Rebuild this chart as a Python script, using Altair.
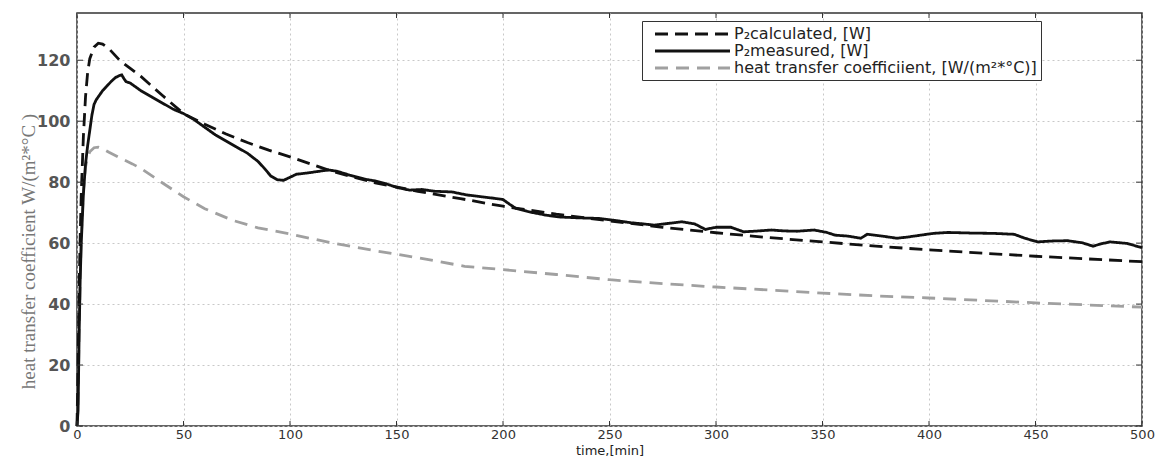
import altair as alt
import pandas as pd

# ---- data ----
calc_t = [0, 0.5, 1, 1.5, 2, 3, 4, 5, 6, 8, 10, 12, 15, 20, 25, 30, 40, 50, 60, 70, 80, 90, 100,
          120, 140, 160, 180, 200, 225, 250, 275, 300, 325, 350, 375, 400, 425, 450, 475, 500]
calc_v = [0, 20, 45, 62, 76, 95, 108, 116, 120.5, 124.3, 125.6, 125.3, 123.8, 120, 117.3, 114.7,
          108.5, 102.5, 99, 95.8, 93, 90.5, 88.3, 83.5, 79.8, 77, 74.6, 72.1, 69.5, 67.3, 65.2,
          63.4, 61.8, 60.4, 59, 57.8, 56.7, 55.7, 54.8, 53.9]

meas_t = [0, 0.5, 1, 1.5, 2, 3, 4, 5, 6, 7, 8, 9, 10, 12, 14, 16, 18, 20, 21, 22, 23, 25, 28, 30,
          35, 40, 45, 50, 55, 60, 65, 70, 75, 80, 85, 88, 91, 94, 97, 100, 103, 108, 113, 118, 122,
          128, 135, 140, 145, 150, 156, 162, 168, 176, 183, 190, 196, 200, 203, 206, 212, 220, 226,
          235, 245, 252, 260, 266, 271, 278, 284, 290, 295, 300, 307, 313, 320, 326, 332, 338, 346,
          352, 356, 362, 368, 371, 378, 385, 390, 396, 402, 409, 420, 430, 440, 445, 451, 458, 465,
          472, 477, 481, 485, 493, 500]
meas_v = [0, 5, 30, 48, 60, 76, 86, 92, 97, 102, 105.5, 107, 108, 110, 111.5, 113, 114.3, 115,
          115.2, 114, 113, 112.5, 111, 110, 108, 106, 104, 102.5, 100.5, 98, 95.5, 93.5, 91.5,
          89.5, 86.8, 84.5, 82, 80.8, 80.6, 81.6, 82.6, 83, 83.5, 84, 83.6, 82.3, 81, 80.4, 79.5,
          78.3, 77.4, 77.6, 77, 76.8, 75.8, 75.2, 74.7, 74.3, 72.8, 71.4, 70.3, 69.2, 68.6, 68.3,
          68.1, 67.5, 66.7, 66.3, 65.9, 66.5, 67, 66.3, 64.5, 65.2, 65.2, 63.7, 64.0, 64.3, 64,
          63.9, 64.3, 63.5, 62.6, 62.3, 61.6, 62.9, 62.3, 61.6, 62.0, 62.6, 63.2, 63.5, 63.3, 63.2,
          62.9, 61.6, 60.4, 60.7, 60.8, 60.1, 59.0, 59.8, 60.4, 59.9, 58.5]

htc_t = [0, 0.5, 1, 1.5, 2, 3, 4, 5, 6, 8, 10, 12, 15, 20, 26, 30, 40, 50, 60, 73, 85, 100, 120,
         140, 160, 182, 200, 225, 250, 275, 300, 325, 350, 375, 400, 425, 450, 475, 500]
htc_v = [0, 8, 30, 48, 62, 77, 85, 88, 90, 91.3, 91.5, 91, 89.8, 88, 86, 84.5, 79.8, 75.2, 71.3,
         67.5, 65, 63, 60, 57.5, 55.2, 52.4, 51.3, 49.7, 48, 46.7, 45.6, 44.6, 43.6, 42.7, 42,
         41.2, 40.4, 39.7, 39]

names = ["P\u2082calculated, [W]", "P\u2082measured, [W]",
         "heat transfer coefficiient, [W/(m\u00b2*\u00b0C)]"]
x_ticks = [0, 50, 100, 150, 200, 250, 300, 350, 400, 450, 500]
y_ticks = [0, 20, 40, 60, 80, 100, 120]

# draw order: gray first, then measured, then calculated on top
df = pd.concat([
    pd.DataFrame({"t": htc_t, "v": htc_v, "series": names[2]}),
    pd.DataFrame({"t": meas_t, "v": meas_v, "series": names[1]}),
    pd.DataFrame({"t": calc_t, "v": calc_v, "series": names[0]}),
], ignore_index=True)

W, H = 1065, 413
xscale = alt.Scale(domain=[0, 500], nice=False, zero=False)
yscale = alt.Scale(domain=[0, 135.5], nice=False)

x_axis = alt.Axis(
    values=x_ticks, title="time,[min]", ticks=False, domain=False, grid=True,
    gridDash=[2, 3], gridColor="#c8c8c8", labelFont="DejaVu Sans", labelFontSize=13,
    labelColor="#333", labelPadding=2, labelFlush=False, titleFont="DejaVu Sans",
    titleFontSize=13, titleFontWeight="normal", titleColor="#222",
    titleY=28, titleBaseline="alphabetic")
y_axis = alt.Axis(
    values=y_ticks, title="heat transfer coefficient W/(m\u00b2*\u00b0C )", ticks=False,
    domain=False, grid=True, gridDash=[2, 3], gridColor="#c8c8c8",
    labelFont="DejaVu Sans", labelFontSize=16, labelFontWeight="bold", labelColor="#555",
    labelPadding=7, titleFont="Liberation Serif", titleFontSize=19,
    titleFontWeight="normal", titleColor="#777", titleX=-49, titleY=238, titleAngle=270,
    titleAlign="center", titleBaseline="middle")

x_enc = alt.X("t:Q", scale=xscale, axis=x_axis)
y_enc = alt.Y("v:Q", scale=yscale, axis=y_axis)

leg = alt.Legend(orient="none", legendX=565, legendY=8, title=None, strokeColor="#333",
                 fillColor="white", padding=4, symbolType="M0,0H10", symbolSize=225,
                 symbolStrokeWidth=3, labelFontSize=16, labelFont="DejaVu Sans",
                 labelColor="#222", labelOffset=70, rowPadding=-2, labelLimit=700)

lines = alt.Chart(df).mark_line(strokeWidth=2.8).encode(
    x=x_enc,
    y=y_enc,
    color=alt.Color("series:N", scale=alt.Scale(domain=names, range=["#111", "#111", "#a0a0a0"]),
                    legend=leg),
    strokeDash=alt.StrokeDash("series:N", scale=alt.Scale(domain=names,
                              range=[[13, 7], [1, 0], [13, 8]]), legend=leg),
)

xt = pd.DataFrame({"t": x_ticks})
yt = pd.DataFrame({"v": y_ticks})
tick_color = "#333"
bottom_ticks = alt.Chart(xt).mark_rule(color=tick_color, strokeWidth=1).encode(
    x=x_enc, y=alt.value(H), y2=alt.value(H - 5))
top_ticks = alt.Chart(xt).mark_rule(color=tick_color, strokeWidth=1).encode(
    x=x_enc, y=alt.value(0), y2=alt.value(5))
left_ticks = alt.Chart(yt).mark_rule(color=tick_color, strokeWidth=1).encode(
    y=y_enc, x=alt.value(0), x2=alt.value(6))
right_ticks = alt.Chart(yt).mark_rule(color=tick_color, strokeWidth=1).encode(
    y=y_enc, x=alt.value(W), x2=alt.value(W - 6))

chart = alt.layer(lines, bottom_ticks, top_ticks, left_ticks, right_ticks).properties(
    width=W, height=H,
    autosize=alt.AutoSizeParams(type="none"),
    padding={"left": 69, "top": 5, "right": 14, "bottom": 31},
    background="white",
).configure_view(stroke="#333", strokeWidth=1.5)

chart.save("out.html", embed_options={"renderer": "svg", "actions": False})
